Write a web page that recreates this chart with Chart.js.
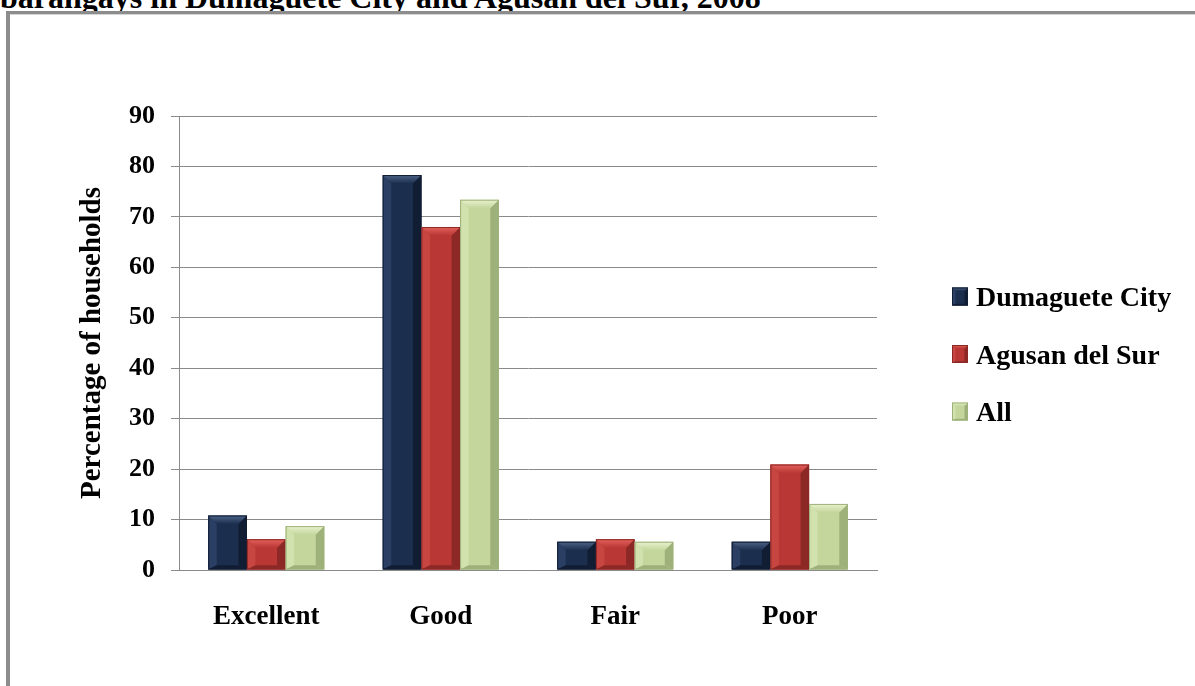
<!DOCTYPE html>
<html>
<head>
<meta charset="utf-8">
<script src="https://cdn.jsdelivr.net/npm/chart.js@4.4.0/dist/chart.umd.min.js"></script>
<style>
    html, body { margin: 0; padding: 0; background: #fff; overflow: hidden; }
    #titulo {
        position: absolute; left: 0; top: -19px; white-space: nowrap; color: #000;
        font: bold 32px/32px "Liberation Serif", "Times New Roman", serif;
    }
    #marco {
        position: absolute; left: 6px; top: 11px; width: 2000px; height: 2000px;
        border-top: 3px solid #8c8c8c; border-left: 4px solid #8c8c8c;
        box-shadow: inset 0 1px 0 #d6d6d6;
    }
    #wrap { position: absolute; left: 0; top: 0; width: 1195px; height: 686px; }
</style>
</head>
<body>
<div id="titulo">barangays in Dumaguete City and Agusan del Sur, 2008</div>
<div id="marco"></div>
<div id="wrap"><canvas id="grafica"></canvas></div>
<script>
// ——— Datos ——————————————————————————————
const categorias = ["Excellent", "Good", "Fair", "Poor"];
const series = ["Dumaguete City", "Agusan del Sur", "All"];
const dumaguete = [10.8, 78.3, 5.6, 5.6];
const agusan = [6.1, 68.0, 6.1, 20.9];
const todos = [8.7, 73.4, 5.6, 13.1];
const yMax = 90;
const yPaso = 10;
const tituloY = "Percentage of households";

// colores: cuerpo, cara superior, lado claro, lado oscuro
const tonos = [
    { base: "#1c2e4e", luz: "#4d6487", claro: "#2a3f63", oscuro: "#111d33" },
    { base: "#b93734", luz: "#e4625c", claro: "#c84642", oscuro: "#8c2825" },
    { base: "#c4d69c", luz: "#e9f2cf", claro: "#d2e2ae", oscuro: "#9fb17a" },
];

const FUENTE = '"Liberation Serif", "Times New Roman", serif';

// ——— Helpers ——————————————————————————————
function poligono(ctx, pts, color) {
    ctx.beginPath();
    ctx.moveTo(pts[0][0], pts[0][1]);
    for (let k = 1; k < pts.length; k++) ctx.lineTo(pts[k][0], pts[k][1]);
    ctx.closePath();
    ctx.fillStyle = color;
    ctx.fill();
}

function bisel(ctx, l, t, r, b, tono, maxS) {
    const w = r - l, h = b - t;
    const s = Math.min(maxS, w * 0.22, h / 2);
    const sb = s * 0.5;
    ctx.save();
    poligono(ctx, [[l, t], [l + s, t + s], [l + s, b - sb], [l, b]], tono.claro);
    poligono(ctx, [[r, t], [r - s, t + s], [r - s, b - sb], [r, b]], tono.oscuro);
    poligono(ctx, [[l, b], [l + s, b - sb], [r - s, b - sb], [r, b]], tono.oscuro);
    const g = ctx.createLinearGradient(0, t, 0, t + s);
    g.addColorStop(0, tono.luz);
    g.addColorStop(1, tono.base);
    poligono(ctx, [[l, t], [r, t], [r - s, t + s], [l + s, t + s]], g);
    ctx.strokeStyle = tono.oscuro;
    ctx.lineWidth = 1;
    ctx.strokeRect(l + 0.5, t + 0.5, w - 1, h - 1);
    ctx.restore();
}

const pluginBisel = {
    id: "bisel",
    afterDatasetsDraw(chart) {
        const ctx = chart.ctx;
        chart.data.datasets.forEach((ds, i) => {
            const meta = chart.getDatasetMeta(i);
            if (meta.hidden) return;
            meta.data.forEach((bar) => {
                const { x, y, base, width } = bar.getProps(["x", "y", "base", "width"], true);
                bisel(ctx, x - width / 2, Math.min(y, base), x + width / 2, Math.max(y, base), tonos[i], 9);
            });
        });
    },
};

const pluginLeyenda = {
    id: "leyenda",
    afterDraw(chart, args, opts) {
        const ctx = chart.ctx;
        const a = chart.chartArea;
        const n = chart.data.datasets.length;
        const x0 = a.right + opts.dx;
        let yc = (a.top + a.bottom) / 2 + opts.dy - (opts.gap * (n - 1)) / 2;
        ctx.save();
        ctx.font = `bold ${opts.size}px ${FUENTE}`;
        ctx.textBaseline = "alphabetic";
        ctx.textAlign = "left";
        chart.data.datasets.forEach((ds, i) => {
            ctx.fillStyle = tonos[i].base;
            ctx.fillRect(x0, yc - 9, 16, 18);
            bisel(ctx, x0, yc - 9, x0 + 16, yc + 9, tonos[i], 5);
            ctx.fillStyle = "#000";
            ctx.fillText(ds.label, x0 + 24, yc + 9.5);
            yc += opts.gap;
        });
        ctx.restore();
    },
};

// ——— Principal ——————————————————————————————
const valores = [dumaguete, agusan, todos];

new Chart(document.getElementById("grafica").getContext("2d"), {
    type: "bar",
    data: {
        labels: categorias,
        datasets: series.map((nombre, i) => ({
            label: nombre,
            data: valores[i],
            backgroundColor: tonos[i].base,
            borderWidth: 0,
            categoryPercentage: 0.665,
            barPercentage: 1,
        })),
    },
    options: {
        responsive: true,
        maintainAspectRatio: false,
        animation: false,
        devicePixelRatio: 1,
        layout: { padding: { top: 116, right: 318, bottom: 21.6, left: 75.6 } },
        plugins: {
            legend: { display: false },
            tooltip: { enabled: false },
            leyenda: { dx: 75, dy: 11, gap: 57.5, size: 28 },
        },
        scales: {
            x: {
                grid: { display: false, drawTicks: false },
                border: { display: true, color: "#8a8a8a" },
                ticks: {
                    padding: 31,
                    color: "#000",
                    font: { family: FUENTE, size: 27, weight: "bold" },
                },
            },
            y: {
                min: 0,
                max: yMax,
                ticks: {
                    stepSize: yPaso,
                    padding: 16,
                    color: "#000",
                    font: { family: FUENTE, size: 26, weight: "bold" },
                },
                grid: { color: "#8a8a8a", lineWidth: 1, tickLength: 8, drawTicks: true },
                border: { display: true, color: "#8a8a8a" },
                title: {
                    display: true,
                    text: tituloY,
                    color: "#000",
                    padding: { top: 0, bottom: 2.6 },
                    font: { family: FUENTE, size: 29, weight: "bold" },
                },
            },
        },
    },
    plugins: [pluginBisel, pluginLeyenda],
});
</script>
</body>
</html>
